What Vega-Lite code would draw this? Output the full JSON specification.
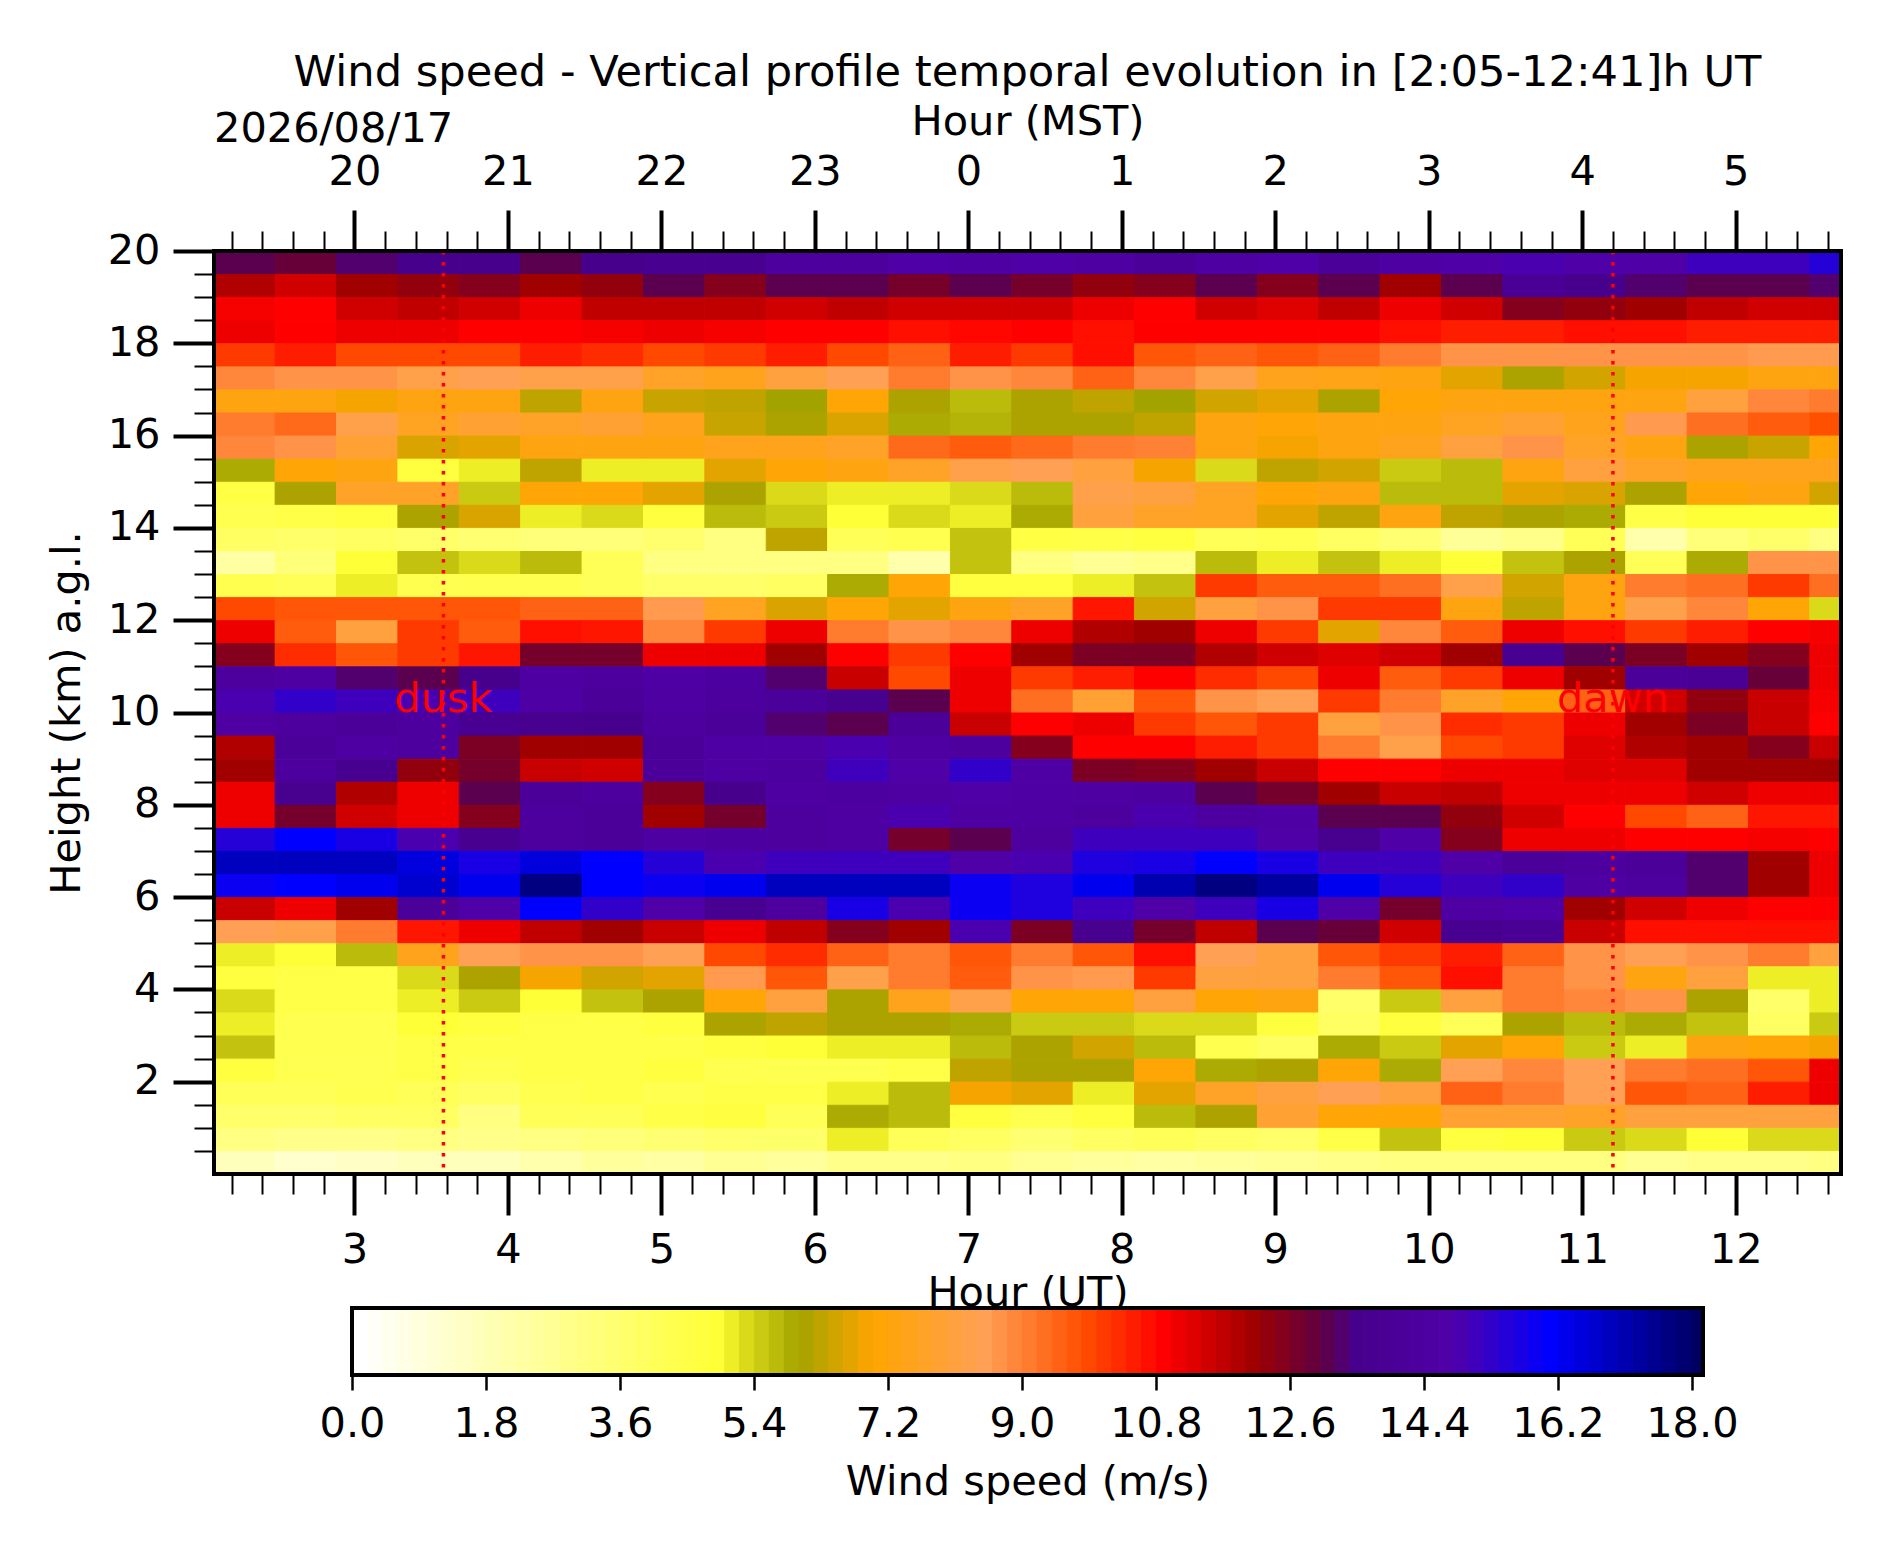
{"$schema":"https://vega.github.io/schema/vega-lite/v6.json","background":"white","padding":{"left":46,"top":51,"right":10,"bottom":10},"config":{"font":"DejaVu Sans","view":{"stroke":null},"axis":{"domain":false,"grid":false,"tickColor":"black","labelColor":"black","titleColor":"black","labelFontSize":41.5,"titleFontSize":41.5,"titleFontWeight":"normal","labelFlush":false,"labelOverlap":false},"title":{"fontSize":43.2,"fontWeight":"normal","color":"black"}},"bounds":"flush","spacing":134,"center":true,"resolve":{"scale":{"color":"independent"}},"vconcat":[{"width":1627,"height":923,"title":{"text":"Wind speed - Vertical profile temporal evolution in [2:05-12:41]h UT","anchor":"middle","offset":6},"resolve":{"axis":{"x":"independent","y":"independent"}},"layer":[{"data":{"values":[
{"t":2.08,"h":19.5,"v":13},{"t":2.48,"h":19.5,"v":12.8},{"t":2.88,"h":19.5,"v":13.2},{"t":3.28,"h":19.5,"v":13.4},{"t":3.68,"h":19.5,"v":13.4},{"t":4.08,"h":19.5,"v":13},{"t":4.48,"h":19.5,"v":13.4},{"t":4.88,"h":19.5,"v":13.6},{"t":5.28,"h":19.5,"v":13.6},{"t":5.68,"h":19.5,"v":14.2},{"t":6.08,"h":19.5,"v":14.2},{"t":6.48,"h":19.5,"v":14.6},{"t":6.88,"h":19.5,"v":14.4},{"t":7.28,"h":19.5,"v":14.6},{"t":7.68,"h":19.5,"v":14.4},{"t":8.08,"h":19.5,"v":14},{"t":8.48,"h":19.5,"v":14.4},{"t":8.88,"h":19.5,"v":14.6},{"t":9.28,"h":19.5,"v":14},{"t":9.68,"h":19.5,"v":14.4},{"t":10.08,"h":19.5,"v":14.6},{"t":10.48,"h":19.5,"v":14.8},{"t":10.88,"h":19.5,"v":14.6},{"t":11.28,"h":19.5,"v":14.6},{"t":11.68,"h":19.5,"v":15},{"t":12.08,"h":19.5,"v":15},{"t":12.48,"h":19.5,"v":15.4},
{"t":2.08,"h":19,"v":11.8},{"t":2.48,"h":19,"v":11.4},{"t":2.88,"h":19,"v":12},{"t":3.28,"h":19,"v":12.2},{"t":3.68,"h":19,"v":12.4},{"t":4.08,"h":19,"v":12},{"t":4.48,"h":19,"v":12.2},{"t":4.88,"h":19,"v":13},{"t":5.28,"h":19,"v":12.4},{"t":5.68,"h":19,"v":13},{"t":6.08,"h":19,"v":13},{"t":6.48,"h":19,"v":12.6},{"t":6.88,"h":19,"v":13},{"t":7.28,"h":19,"v":12.6},{"t":7.68,"h":19,"v":12.2},{"t":8.08,"h":19,"v":12.4},{"t":8.48,"h":19,"v":13},{"t":8.88,"h":19,"v":12.4},{"t":9.28,"h":19,"v":13},{"t":9.68,"h":19,"v":12},{"t":10.08,"h":19,"v":13},{"t":10.48,"h":19,"v":13.8},{"t":10.88,"h":19,"v":13.4},{"t":11.28,"h":19,"v":13.2},{"t":11.68,"h":19,"v":13},{"t":12.08,"h":19,"v":13},{"t":12.48,"h":19,"v":13.2},
{"t":2.08,"h":18.5,"v":10.9},{"t":2.48,"h":18.5,"v":10.8},{"t":2.88,"h":18.5,"v":11.4},{"t":3.28,"h":18.5,"v":11.6},{"t":3.68,"h":18.5,"v":11.4},{"t":4.08,"h":18.5,"v":11},{"t":4.48,"h":18.5,"v":11.6},{"t":4.88,"h":18.5,"v":11.6},{"t":5.28,"h":18.5,"v":11.6},{"t":5.68,"h":18.5,"v":11.4},{"t":6.08,"h":18.5,"v":11.6},{"t":6.48,"h":18.5,"v":11.4},{"t":6.88,"h":18.5,"v":11.4},{"t":7.28,"h":18.5,"v":11.4},{"t":7.68,"h":18.5,"v":11},{"t":8.08,"h":18.5,"v":10.8},{"t":8.48,"h":18.5,"v":11.4},{"t":8.88,"h":18.5,"v":11.2},{"t":9.28,"h":18.5,"v":11.6},{"t":9.68,"h":18.5,"v":11},{"t":10.08,"h":18.5,"v":11.4},{"t":10.48,"h":18.5,"v":12.4},{"t":10.88,"h":18.5,"v":12.2},{"t":11.28,"h":18.5,"v":12},{"t":11.68,"h":18.5,"v":11.6},{"t":12.08,"h":18.5,"v":11.4},{"t":12.48,"h":18.5,"v":11.4},
{"t":2.08,"h":18,"v":11},{"t":2.48,"h":18,"v":10.8},{"t":2.88,"h":18,"v":11},{"t":3.28,"h":18,"v":11},{"t":3.68,"h":18,"v":10.8},{"t":4.08,"h":18,"v":10.8},{"t":4.48,"h":18,"v":10.9},{"t":4.88,"h":18,"v":11},{"t":5.28,"h":18,"v":10.9},{"t":5.68,"h":18,"v":10.8},{"t":6.08,"h":18,"v":10.8},{"t":6.48,"h":18,"v":10.6},{"t":6.88,"h":18,"v":10.7},{"t":7.28,"h":18,"v":10.8},{"t":7.68,"h":18,"v":10.6},{"t":8.08,"h":18,"v":10.8},{"t":8.48,"h":18,"v":10.8},{"t":8.88,"h":18,"v":10.8},{"t":9.28,"h":18,"v":10.8},{"t":9.68,"h":18,"v":10.6},{"t":10.08,"h":18,"v":10.4},{"t":10.48,"h":18,"v":10.4},{"t":10.88,"h":18,"v":10.6},{"t":11.28,"h":18,"v":10.6},{"t":11.68,"h":18,"v":10.4},{"t":12.08,"h":18,"v":10.4},{"t":12.48,"h":18,"v":10.4},
{"t":2.08,"h":17.5,"v":10},{"t":2.48,"h":17.5,"v":10.4},{"t":2.88,"h":17.5,"v":9.8},{"t":3.28,"h":17.5,"v":9.8},{"t":3.68,"h":17.5,"v":9.8},{"t":4.08,"h":17.5,"v":10.4},{"t":4.48,"h":17.5,"v":10.2},{"t":4.88,"h":17.5,"v":9.8},{"t":5.28,"h":17.5,"v":10},{"t":5.68,"h":17.5,"v":10.4},{"t":6.08,"h":17.5,"v":9.8},{"t":6.48,"h":17.5,"v":9.4},{"t":6.88,"h":17.5,"v":10.4},{"t":7.28,"h":17.5,"v":10},{"t":7.68,"h":17.5,"v":10.6},{"t":8.08,"h":17.5,"v":9.6},{"t":8.48,"h":17.5,"v":9.4},{"t":8.88,"h":17.5,"v":9.6},{"t":9.28,"h":17.5,"v":9.4},{"t":9.68,"h":17.5,"v":9},{"t":10.08,"h":17.5,"v":8.6},{"t":10.48,"h":17.5,"v":8.6},{"t":10.88,"h":17.5,"v":8.6},{"t":11.28,"h":17.5,"v":8.6},{"t":11.68,"h":17.5,"v":8.6},{"t":12.08,"h":17.5,"v":8.5},{"t":12.48,"h":17.5,"v":8.5},
{"t":2.08,"h":17,"v":8.8},{"t":2.48,"h":17,"v":8.6},{"t":2.88,"h":17,"v":8.6},{"t":3.28,"h":17,"v":8.2},{"t":3.68,"h":17,"v":8.4},{"t":4.08,"h":17,"v":8.2},{"t":4.48,"h":17,"v":8.2},{"t":4.88,"h":17,"v":7.6},{"t":5.28,"h":17,"v":7.4},{"t":5.68,"h":17,"v":8},{"t":6.08,"h":17,"v":8.4},{"t":6.48,"h":17,"v":9},{"t":6.88,"h":17,"v":8.6},{"t":7.28,"h":17,"v":8.8},{"t":7.68,"h":17,"v":9.4},{"t":8.08,"h":17,"v":8.8},{"t":8.48,"h":17,"v":8.2},{"t":8.88,"h":17,"v":7.4},{"t":9.28,"h":17,"v":7.3},{"t":9.68,"h":17,"v":7.2},{"t":10.08,"h":17,"v":6.6},{"t":10.48,"h":17,"v":6},{"t":10.88,"h":17,"v":6.4},{"t":11.28,"h":17,"v":6.8},{"t":11.68,"h":17,"v":6.8},{"t":12.08,"h":17,"v":7.2},{"t":12.48,"h":17,"v":7.2},
{"t":2.08,"h":16.5,"v":7.2},{"t":2.48,"h":16.5,"v":7.2},{"t":2.88,"h":16.5,"v":6.8},{"t":3.28,"h":16.5,"v":7.2},{"t":3.68,"h":16.5,"v":7.2},{"t":4.08,"h":16.5,"v":6.2},{"t":4.48,"h":16.5,"v":7.2},{"t":4.88,"h":16.5,"v":6.3},{"t":5.28,"h":16.5,"v":6.2},{"t":5.68,"h":16.5,"v":5.9},{"t":6.08,"h":16.5,"v":7},{"t":6.48,"h":16.5,"v":6},{"t":6.88,"h":16.5,"v":5.6},{"t":7.28,"h":16.5,"v":6},{"t":7.68,"h":16.5,"v":6.2},{"t":8.08,"h":16.5,"v":5.9},{"t":8.48,"h":16.5,"v":6.4},{"t":8.88,"h":16.5,"v":6.6},{"t":9.28,"h":16.5,"v":6},{"t":9.68,"h":16.5,"v":7},{"t":10.08,"h":16.5,"v":7.2},{"t":10.48,"h":16.5,"v":7.2},{"t":10.88,"h":16.5,"v":7.2},{"t":11.28,"h":16.5,"v":7.2},{"t":11.68,"h":16.5,"v":8},{"t":12.08,"h":16.5,"v":8.8},{"t":12.48,"h":16.5,"v":9},
{"t":2.08,"h":16,"v":9},{"t":2.48,"h":16,"v":9.3},{"t":2.88,"h":16,"v":8.2},{"t":3.28,"h":16,"v":7.5},{"t":3.68,"h":16,"v":7.8},{"t":4.08,"h":16,"v":7.6},{"t":4.48,"h":16,"v":7.8},{"t":4.88,"h":16,"v":7.4},{"t":5.28,"h":16,"v":6.3},{"t":5.68,"h":16,"v":6},{"t":6.08,"h":16,"v":6.5},{"t":6.48,"h":16,"v":5.8},{"t":6.88,"h":16,"v":5.7},{"t":7.28,"h":16,"v":6},{"t":7.68,"h":16,"v":6},{"t":8.08,"h":16,"v":6.2},{"t":8.48,"h":16,"v":7.2},{"t":8.88,"h":16,"v":7},{"t":9.28,"h":16,"v":7.2},{"t":9.68,"h":16,"v":7.2},{"t":10.08,"h":16,"v":7.5},{"t":10.48,"h":16,"v":7.8},{"t":10.88,"h":16,"v":7.4},{"t":11.28,"h":16,"v":8.5},{"t":11.68,"h":16,"v":9.2},{"t":12.08,"h":16,"v":9.5},{"t":12.48,"h":16,"v":9.7},
{"t":2.08,"h":15.5,"v":8.8},{"t":2.48,"h":15.5,"v":8.6},{"t":2.88,"h":15.5,"v":7.8},{"t":3.28,"h":15.5,"v":6.5},{"t":3.68,"h":15.5,"v":6.6},{"t":4.08,"h":15.5,"v":7.2},{"t":4.48,"h":15.5,"v":7.2},{"t":4.88,"h":15.5,"v":7.2},{"t":5.28,"h":15.5,"v":7.4},{"t":5.68,"h":15.5,"v":7.4},{"t":6.08,"h":15.5,"v":7.6},{"t":6.48,"h":15.5,"v":9.3},{"t":6.88,"h":15.5,"v":9.5},{"t":7.28,"h":15.5,"v":9.3},{"t":7.68,"h":15.5,"v":9},{"t":8.08,"h":15.5,"v":8.9},{"t":8.48,"h":15.5,"v":7.2},{"t":8.88,"h":15.5,"v":6.8},{"t":9.28,"h":15.5,"v":7.2},{"t":9.68,"h":15.5,"v":7.4},{"t":10.08,"h":15.5,"v":8},{"t":10.48,"h":15.5,"v":8.6},{"t":10.88,"h":15.5,"v":7.6},{"t":11.28,"h":15.5,"v":7.2},{"t":11.68,"h":15.5,"v":6},{"t":12.08,"h":15.5,"v":6.3},{"t":12.48,"h":15.5,"v":7},
{"t":2.08,"h":15,"v":5.8},{"t":2.48,"h":15,"v":7},{"t":2.88,"h":15,"v":7.2},{"t":3.28,"h":15,"v":4.6},{"t":3.68,"h":15,"v":5},{"t":4.08,"h":15,"v":6.2},{"t":4.48,"h":15,"v":5},{"t":4.88,"h":15,"v":5},{"t":5.28,"h":15,"v":6.6},{"t":5.68,"h":15,"v":7},{"t":6.08,"h":15,"v":7.2},{"t":6.48,"h":15,"v":7.6},{"t":6.88,"h":15,"v":8.2},{"t":7.28,"h":15,"v":8.4},{"t":7.68,"h":15,"v":8},{"t":8.08,"h":15,"v":6.8},{"t":8.48,"h":15,"v":5.2},{"t":8.88,"h":15,"v":6.2},{"t":9.28,"h":15,"v":6.4},{"t":9.68,"h":15,"v":5.4},{"t":10.08,"h":15,"v":5.6},{"t":10.48,"h":15,"v":7.2},{"t":10.88,"h":15,"v":8},{"t":11.28,"h":15,"v":7.6},{"t":11.68,"h":15,"v":7.4},{"t":12.08,"h":15,"v":7.4},{"t":12.48,"h":15,"v":7.4},
{"t":2.08,"h":14.5,"v":4.5},{"t":2.48,"h":14.5,"v":6},{"t":2.88,"h":14.5,"v":7.6},{"t":3.28,"h":14.5,"v":7.6},{"t":3.68,"h":14.5,"v":5.4},{"t":4.08,"h":14.5,"v":7},{"t":4.48,"h":14.5,"v":7},{"t":4.88,"h":14.5,"v":6.6},{"t":5.28,"h":14.5,"v":6},{"t":5.68,"h":14.5,"v":5.2},{"t":6.08,"h":14.5,"v":5},{"t":6.48,"h":14.5,"v":5},{"t":6.88,"h":14.5,"v":5.2},{"t":7.28,"h":14.5,"v":5.6},{"t":7.68,"h":14.5,"v":8.2},{"t":8.08,"h":14.5,"v":8},{"t":8.48,"h":14.5,"v":7.5},{"t":8.88,"h":14.5,"v":7},{"t":9.28,"h":14.5,"v":7.2},{"t":9.68,"h":14.5,"v":5.6},{"t":10.08,"h":14.5,"v":5.6},{"t":10.48,"h":14.5,"v":6.6},{"t":10.88,"h":14.5,"v":6.5},{"t":11.28,"h":14.5,"v":6},{"t":11.68,"h":14.5,"v":7},{"t":12.08,"h":14.5,"v":7.2},{"t":12.48,"h":14.5,"v":6.4},
{"t":2.08,"h":14,"v":4.2},{"t":2.48,"h":14,"v":4.4},{"t":2.88,"h":14,"v":4.6},{"t":3.28,"h":14,"v":6},{"t":3.68,"h":14,"v":6.5},{"t":4.08,"h":14,"v":5},{"t":4.48,"h":14,"v":5.2},{"t":4.88,"h":14,"v":4.6},{"t":5.28,"h":14,"v":5.6},{"t":5.68,"h":14,"v":5.4},{"t":6.08,"h":14,"v":4.8},{"t":6.48,"h":14,"v":5.2},{"t":6.88,"h":14,"v":5},{"t":7.28,"h":14,"v":5.8},{"t":7.68,"h":14,"v":8},{"t":8.08,"h":14,"v":7.6},{"t":8.48,"h":14,"v":7.5},{"t":8.88,"h":14,"v":6.6},{"t":9.28,"h":14,"v":6.2},{"t":9.68,"h":14,"v":7.2},{"t":10.08,"h":14,"v":6.2},{"t":10.48,"h":14,"v":6},{"t":10.88,"h":14,"v":5.8},{"t":11.28,"h":14,"v":4.4},{"t":11.68,"h":14,"v":4.8},{"t":12.08,"h":14,"v":4.8},{"t":12.48,"h":14,"v":4.8},
{"t":2.08,"h":13.5,"v":3.8},{"t":2.48,"h":13.5,"v":3.6},{"t":2.88,"h":13.5,"v":3.8},{"t":3.28,"h":13.5,"v":3.6},{"t":3.68,"h":13.5,"v":3.4},{"t":4.08,"h":13.5,"v":3.2},{"t":4.48,"h":13.5,"v":3.2},{"t":4.88,"h":13.5,"v":3.5},{"t":5.28,"h":13.5,"v":3},{"t":5.68,"h":13.5,"v":6.2},{"t":6.08,"h":13.5,"v":4},{"t":6.48,"h":13.5,"v":4.2},{"t":6.88,"h":13.5,"v":5.5},{"t":7.28,"h":13.5,"v":4.5},{"t":7.68,"h":13.5,"v":4.4},{"t":8.08,"h":13.5,"v":4.6},{"t":8.48,"h":13.5,"v":4},{"t":8.88,"h":13.5,"v":4.2},{"t":9.28,"h":13.5,"v":3.8},{"t":9.68,"h":13.5,"v":3.4},{"t":10.08,"h":13.5,"v":2.5},{"t":10.48,"h":13.5,"v":2.8},{"t":10.88,"h":13.5,"v":4},{"t":11.28,"h":13.5,"v":2},{"t":11.68,"h":13.5,"v":3.2},{"t":12.08,"h":13.5,"v":3.6},{"t":12.48,"h":13.5,"v":3},
{"t":2.08,"h":13,"v":2.2},{"t":2.48,"h":13,"v":3.2},{"t":2.88,"h":13,"v":4.8},{"t":3.28,"h":13,"v":5.5},{"t":3.68,"h":13,"v":5.2},{"t":4.08,"h":13,"v":5.6},{"t":4.48,"h":13,"v":4},{"t":4.88,"h":13,"v":3},{"t":5.28,"h":13,"v":3},{"t":5.68,"h":13,"v":3},{"t":6.08,"h":13,"v":3},{"t":6.48,"h":13,"v":2},{"t":6.88,"h":13,"v":5.5},{"t":7.28,"h":13,"v":3},{"t":7.68,"h":13,"v":2.6},{"t":8.08,"h":13,"v":2.8},{"t":8.48,"h":13,"v":5.6},{"t":8.88,"h":13,"v":5},{"t":9.28,"h":13,"v":5.5},{"t":9.68,"h":13,"v":5},{"t":10.08,"h":13,"v":4.8},{"t":10.48,"h":13,"v":5.5},{"t":10.88,"h":13,"v":6},{"t":11.28,"h":13,"v":4},{"t":11.68,"h":13,"v":5.8},{"t":12.08,"h":13,"v":8.6},{"t":12.48,"h":13,"v":8.6},
{"t":2.08,"h":12.5,"v":4.2},{"t":2.48,"h":12.5,"v":4},{"t":2.88,"h":12.5,"v":5},{"t":3.28,"h":12.5,"v":4.2},{"t":3.68,"h":12.5,"v":4.2},{"t":4.08,"h":12.5,"v":4.2},{"t":4.48,"h":12.5,"v":4},{"t":4.88,"h":12.5,"v":3.6},{"t":5.28,"h":12.5,"v":3.6},{"t":5.68,"h":12.5,"v":3.8},{"t":6.08,"h":12.5,"v":5.8},{"t":6.48,"h":12.5,"v":7},{"t":6.88,"h":12.5,"v":4.6},{"t":7.28,"h":12.5,"v":4.6},{"t":7.68,"h":12.5,"v":5},{"t":8.08,"h":12.5,"v":5.5},{"t":8.48,"h":12.5,"v":10},{"t":8.88,"h":12.5,"v":9.5},{"t":9.28,"h":12.5,"v":9.5},{"t":9.68,"h":12.5,"v":9.2},{"t":10.08,"h":12.5,"v":8.2},{"t":10.48,"h":12.5,"v":6.4},{"t":10.88,"h":12.5,"v":7.2},{"t":11.28,"h":12.5,"v":9},{"t":11.68,"h":12.5,"v":9.2},{"t":12.08,"h":12.5,"v":10},{"t":12.48,"h":12.5,"v":9.2},
{"t":2.08,"h":12,"v":9.8},{"t":2.48,"h":12,"v":9.6},{"t":2.88,"h":12,"v":9.6},{"t":3.28,"h":12,"v":9.6},{"t":3.68,"h":12,"v":9.6},{"t":4.08,"h":12,"v":9.4},{"t":4.48,"h":12,"v":9.4},{"t":4.88,"h":12,"v":8.5},{"t":5.28,"h":12,"v":7.5},{"t":5.68,"h":12,"v":6.5},{"t":6.08,"h":12,"v":7},{"t":6.48,"h":12,"v":6.6},{"t":6.88,"h":12,"v":7.2},{"t":7.28,"h":12,"v":7.6},{"t":7.68,"h":12,"v":10.5},{"t":8.08,"h":12,"v":6.4},{"t":8.48,"h":12,"v":8},{"t":8.88,"h":12,"v":8.6},{"t":9.28,"h":12,"v":10},{"t":9.68,"h":12,"v":10},{"t":10.08,"h":12,"v":7.2},{"t":10.48,"h":12,"v":6.2},{"t":10.88,"h":12,"v":7.2},{"t":11.28,"h":12,"v":8.2},{"t":11.68,"h":12,"v":8.8},{"t":12.08,"h":12,"v":7},{"t":12.48,"h":12,"v":5.2},
{"t":2.08,"h":11.5,"v":11},{"t":2.48,"h":11.5,"v":9.5},{"t":2.88,"h":11.5,"v":8},{"t":3.28,"h":11.5,"v":10},{"t":3.68,"h":11.5,"v":9.5},{"t":4.08,"h":11.5,"v":10.6},{"t":4.48,"h":11.5,"v":10.5},{"t":4.88,"h":11.5,"v":8.8},{"t":5.28,"h":11.5,"v":10},{"t":5.68,"h":11.5,"v":11},{"t":6.08,"h":11.5,"v":9},{"t":6.48,"h":11.5,"v":8.6},{"t":6.88,"h":11.5,"v":8.8},{"t":7.28,"h":11.5,"v":11},{"t":7.68,"h":11.5,"v":11.8},{"t":8.08,"h":11.5,"v":12},{"t":8.48,"h":11.5,"v":11},{"t":8.88,"h":11.5,"v":10},{"t":9.28,"h":11.5,"v":6.6},{"t":9.68,"h":11.5,"v":8.8},{"t":10.08,"h":11.5,"v":9.5},{"t":10.48,"h":11.5,"v":11},{"t":10.88,"h":11.5,"v":10.6},{"t":11.28,"h":11.5,"v":10},{"t":11.68,"h":11.5,"v":10.4},{"t":12.08,"h":11.5,"v":10.8},{"t":12.48,"h":11.5,"v":10.9},
{"t":2.08,"h":11,"v":12.4},{"t":2.48,"h":11,"v":10.2},{"t":2.88,"h":11,"v":9.6},{"t":3.28,"h":11,"v":10},{"t":3.68,"h":11,"v":10.5},{"t":4.08,"h":11,"v":12.6},{"t":4.48,"h":11,"v":12.6},{"t":4.88,"h":11,"v":11},{"t":5.28,"h":11,"v":11},{"t":5.68,"h":11,"v":12},{"t":6.08,"h":11,"v":10.8},{"t":6.48,"h":11,"v":10},{"t":6.88,"h":11,"v":10.8},{"t":7.28,"h":11,"v":12},{"t":7.68,"h":11,"v":12.5},{"t":8.08,"h":11,"v":12.5},{"t":8.48,"h":11,"v":11.8},{"t":8.88,"h":11,"v":11.4},{"t":9.28,"h":11,"v":11.2},{"t":9.68,"h":11,"v":11.4},{"t":10.08,"h":11,"v":12},{"t":10.48,"h":11,"v":13.6},{"t":10.88,"h":11,"v":13},{"t":11.28,"h":11,"v":12.5},{"t":11.68,"h":11,"v":12},{"t":12.08,"h":11,"v":12.4},{"t":12.48,"h":11,"v":11},
{"t":2.08,"h":10.5,"v":14.2},{"t":2.48,"h":10.5,"v":14.4},{"t":2.88,"h":10.5,"v":13.2},{"t":3.28,"h":10.5,"v":13},{"t":3.68,"h":10.5,"v":13.4},{"t":4.08,"h":10.5,"v":14.4},{"t":4.48,"h":10.5,"v":14.2},{"t":4.88,"h":10.5,"v":14.5},{"t":5.28,"h":10.5,"v":14.3},{"t":5.68,"h":10.5,"v":13.2},{"t":6.08,"h":10.5,"v":11.5},{"t":6.48,"h":10.5,"v":9.8},{"t":6.88,"h":10.5,"v":11},{"t":7.28,"h":10.5,"v":10},{"t":7.68,"h":10.5,"v":10.4},{"t":8.08,"h":10.5,"v":10.8},{"t":8.48,"h":10.5,"v":10.2},{"t":8.88,"h":10.5,"v":9.8},{"t":9.28,"h":10.5,"v":11},{"t":9.68,"h":10.5,"v":9.5},{"t":10.08,"h":10.5,"v":10},{"t":10.48,"h":10.5,"v":11},{"t":10.88,"h":10.5,"v":12},{"t":11.28,"h":10.5,"v":14},{"t":11.68,"h":10.5,"v":13.8},{"t":12.08,"h":10.5,"v":12.8},{"t":12.48,"h":10.5,"v":11},
{"t":2.08,"h":10,"v":14.8},{"t":2.48,"h":10,"v":15.2},{"t":2.88,"h":10,"v":15},{"t":3.28,"h":10,"v":14.8},{"t":3.68,"h":10,"v":15},{"t":4.08,"h":10,"v":14.5},{"t":4.48,"h":10,"v":14},{"t":4.88,"h":10,"v":14.4},{"t":5.28,"h":10,"v":14.2},{"t":5.68,"h":10,"v":14},{"t":6.08,"h":10,"v":13.5},{"t":6.48,"h":10,"v":13},{"t":6.88,"h":10,"v":11},{"t":7.28,"h":10,"v":9.2},{"t":7.68,"h":10,"v":7.8},{"t":8.08,"h":10,"v":9.6},{"t":8.48,"h":10,"v":8.6},{"t":8.88,"h":10,"v":8.4},{"t":9.28,"h":10,"v":10},{"t":9.68,"h":10,"v":9},{"t":10.08,"h":10,"v":7.6},{"t":10.48,"h":10,"v":7},{"t":10.88,"h":10,"v":9.4},{"t":11.28,"h":10,"v":11.4},{"t":11.68,"h":10,"v":12.2},{"t":12.08,"h":10,"v":11.5},{"t":12.48,"h":10,"v":10.9},
{"t":2.08,"h":9.5,"v":14.4},{"t":2.48,"h":9.5,"v":14.2},{"t":2.88,"h":9.5,"v":14},{"t":3.28,"h":9.5,"v":14.2},{"t":3.68,"h":9.5,"v":13.6},{"t":4.08,"h":9.5,"v":13.5},{"t":4.48,"h":9.5,"v":13.4},{"t":4.88,"h":9.5,"v":14.2},{"t":5.28,"h":9.5,"v":14},{"t":5.68,"h":9.5,"v":13.2},{"t":6.08,"h":9.5,"v":13},{"t":6.48,"h":9.5,"v":14},{"t":6.88,"h":9.5,"v":11.5},{"t":7.28,"h":9.5,"v":10.8},{"t":7.68,"h":9.5,"v":11},{"t":8.08,"h":9.5,"v":10},{"t":8.48,"h":9.5,"v":9.6},{"t":8.88,"h":9.5,"v":10},{"t":9.28,"h":9.5,"v":8},{"t":9.68,"h":9.5,"v":8.6},{"t":10.08,"h":9.5,"v":10.2},{"t":10.48,"h":9.5,"v":10},{"t":10.88,"h":9.5,"v":11},{"t":11.28,"h":9.5,"v":12},{"t":11.68,"h":9.5,"v":12.5},{"t":12.08,"h":9.5,"v":11.5},{"t":12.48,"h":9.5,"v":10.8},
{"t":2.08,"h":9,"v":11.8},{"t":2.48,"h":9,"v":14},{"t":2.88,"h":9,"v":14.4},{"t":3.28,"h":9,"v":14.2},{"t":3.68,"h":9,"v":12.5},{"t":4.08,"h":9,"v":12},{"t":4.48,"h":9,"v":12},{"t":4.88,"h":9,"v":14},{"t":5.28,"h":9,"v":14.5},{"t":5.68,"h":9,"v":14.5},{"t":6.08,"h":9,"v":14.8},{"t":6.48,"h":9,"v":14.4},{"t":6.88,"h":9,"v":14.2},{"t":7.28,"h":9,"v":12.4},{"t":7.68,"h":9,"v":10.8},{"t":8.08,"h":9,"v":10.8},{"t":8.48,"h":9,"v":10.4},{"t":8.88,"h":9,"v":10},{"t":9.28,"h":9,"v":9},{"t":9.68,"h":9,"v":8.2},{"t":10.08,"h":9,"v":9.8},{"t":10.48,"h":9,"v":10},{"t":10.88,"h":9,"v":11.2},{"t":11.28,"h":9,"v":11.8},{"t":11.68,"h":9,"v":12},{"t":12.08,"h":9,"v":12.4},{"t":12.48,"h":9,"v":11.5},
{"t":2.08,"h":8.5,"v":12},{"t":2.48,"h":8.5,"v":14.2},{"t":2.88,"h":8.5,"v":13.6},{"t":3.28,"h":8.5,"v":12.2},{"t":3.68,"h":8.5,"v":12.6},{"t":4.08,"h":8.5,"v":11.5},{"t":4.48,"h":8.5,"v":11.4},{"t":4.88,"h":8.5,"v":14},{"t":5.28,"h":8.5,"v":14.4},{"t":5.68,"h":8.5,"v":14.2},{"t":6.08,"h":8.5,"v":15},{"t":6.48,"h":8.5,"v":14.6},{"t":6.88,"h":8.5,"v":15.2},{"t":7.28,"h":8.5,"v":14.5},{"t":7.68,"h":8.5,"v":12.5},{"t":8.08,"h":8.5,"v":12.4},{"t":8.48,"h":8.5,"v":12},{"t":8.88,"h":8.5,"v":11.5},{"t":9.28,"h":8.5,"v":10.8},{"t":9.68,"h":8.5,"v":10.8},{"t":10.08,"h":8.5,"v":11},{"t":10.48,"h":8.5,"v":11},{"t":10.88,"h":8.5,"v":11.2},{"t":11.28,"h":8.5,"v":11.2},{"t":11.68,"h":8.5,"v":12},{"t":12.08,"h":8.5,"v":12},{"t":12.48,"h":8.5,"v":12},
{"t":2.08,"h":8,"v":11},{"t":2.48,"h":8,"v":13.5},{"t":2.88,"h":8,"v":11.8},{"t":3.28,"h":8,"v":11},{"t":3.68,"h":8,"v":13},{"t":4.08,"h":8,"v":14},{"t":4.48,"h":8,"v":14.2},{"t":4.88,"h":8,"v":12.4},{"t":5.28,"h":8,"v":13.4},{"t":5.68,"h":8,"v":14.4},{"t":6.08,"h":8,"v":14.3},{"t":6.48,"h":8,"v":14.4},{"t":6.88,"h":8,"v":14.6},{"t":7.28,"h":8,"v":14.5},{"t":7.68,"h":8,"v":14.4},{"t":8.08,"h":8,"v":14.3},{"t":8.48,"h":8,"v":13},{"t":8.88,"h":8,"v":12.6},{"t":9.28,"h":8,"v":12},{"t":9.68,"h":8,"v":11.5},{"t":10.08,"h":8,"v":11.6},{"t":10.48,"h":8,"v":11},{"t":10.88,"h":8,"v":11},{"t":11.28,"h":8,"v":11},{"t":11.68,"h":8,"v":11.4},{"t":12.08,"h":8,"v":11},{"t":12.48,"h":8,"v":11},
{"t":2.08,"h":7.5,"v":11},{"t":2.48,"h":7.5,"v":12.6},{"t":2.88,"h":7.5,"v":11.4},{"t":3.28,"h":7.5,"v":11},{"t":3.68,"h":7.5,"v":12.4},{"t":4.08,"h":7.5,"v":14.2},{"t":4.48,"h":7.5,"v":14},{"t":4.88,"h":7.5,"v":12},{"t":5.28,"h":7.5,"v":12.6},{"t":5.68,"h":7.5,"v":14.2},{"t":6.08,"h":7.5,"v":14.4},{"t":6.48,"h":7.5,"v":14.8},{"t":6.88,"h":7.5,"v":14.4},{"t":7.28,"h":7.5,"v":14.4},{"t":7.68,"h":7.5,"v":14.2},{"t":8.08,"h":7.5,"v":14.8},{"t":8.48,"h":7.5,"v":14.3},{"t":8.88,"h":7.5,"v":14.5},{"t":9.28,"h":7.5,"v":13},{"t":9.68,"h":7.5,"v":13},{"t":10.08,"h":7.5,"v":12.2},{"t":10.48,"h":7.5,"v":11.4},{"t":10.88,"h":7.5,"v":10.8},{"t":11.28,"h":7.5,"v":9.8},{"t":11.68,"h":7.5,"v":9.4},{"t":12.08,"h":7.5,"v":10.5},{"t":12.48,"h":7.5,"v":10.5},
{"t":2.08,"h":7,"v":15.4},{"t":2.48,"h":7,"v":16},{"t":2.88,"h":7,"v":15.6},{"t":3.28,"h":7,"v":14.8},{"t":3.68,"h":7,"v":13.6},{"t":4.08,"h":7,"v":14.2},{"t":4.48,"h":7,"v":14},{"t":4.88,"h":7,"v":14.4},{"t":5.28,"h":7,"v":14.3},{"t":5.68,"h":7,"v":14.2},{"t":6.08,"h":7,"v":14.4},{"t":6.48,"h":7,"v":12.6},{"t":6.88,"h":7,"v":13},{"t":7.28,"h":7,"v":14.2},{"t":7.68,"h":7,"v":15},{"t":8.08,"h":7,"v":15},{"t":8.48,"h":7,"v":15},{"t":8.88,"h":7,"v":14.6},{"t":9.28,"h":7,"v":13.5},{"t":9.68,"h":7,"v":14.6},{"t":10.08,"h":7,"v":12.4},{"t":10.48,"h":7,"v":11},{"t":10.88,"h":7,"v":11},{"t":11.28,"h":7,"v":10.8},{"t":11.68,"h":7,"v":10.8},{"t":12.08,"h":7,"v":10.9},{"t":12.48,"h":7,"v":10.8},
{"t":2.08,"h":6.5,"v":16.8},{"t":2.48,"h":6.5,"v":16.8},{"t":2.88,"h":6.5,"v":16.8},{"t":3.28,"h":6.5,"v":16.4},{"t":3.68,"h":6.5,"v":15.6},{"t":4.08,"h":6.5,"v":16.4},{"t":4.48,"h":6.5,"v":16},{"t":4.88,"h":6.5,"v":15.4},{"t":5.28,"h":6.5,"v":14.8},{"t":5.68,"h":6.5,"v":15},{"t":6.08,"h":6.5,"v":15},{"t":6.48,"h":6.5,"v":15},{"t":6.88,"h":6.5,"v":14.6},{"t":7.28,"h":6.5,"v":14.8},{"t":7.68,"h":6.5,"v":15.5},{"t":8.08,"h":6.5,"v":15.6},{"t":8.48,"h":6.5,"v":16},{"t":8.88,"h":6.5,"v":15.6},{"t":9.28,"h":6.5,"v":15},{"t":9.68,"h":6.5,"v":15},{"t":10.08,"h":6.5,"v":14.6},{"t":10.48,"h":6.5,"v":14},{"t":10.88,"h":6.5,"v":14.2},{"t":11.28,"h":6.5,"v":14},{"t":11.68,"h":6.5,"v":13.2},{"t":12.08,"h":6.5,"v":12},{"t":12.48,"h":6.5,"v":11},
{"t":2.08,"h":6,"v":15.8},{"t":2.48,"h":6,"v":16},{"t":2.88,"h":6,"v":16.2},{"t":3.28,"h":6,"v":16.6},{"t":3.68,"h":6,"v":16.2},{"t":4.08,"h":6,"v":17.6},{"t":4.48,"h":6,"v":16},{"t":4.88,"h":6,"v":15.8},{"t":5.28,"h":6,"v":16.2},{"t":5.68,"h":6,"v":16.8},{"t":6.08,"h":6,"v":16.8},{"t":6.48,"h":6,"v":16.8},{"t":6.88,"h":6,"v":15.8},{"t":7.28,"h":6,"v":15.5},{"t":7.68,"h":6,"v":16.2},{"t":8.08,"h":6,"v":17},{"t":8.48,"h":6,"v":17.6},{"t":8.88,"h":6,"v":17.2},{"t":9.28,"h":6,"v":16.2},{"t":9.68,"h":6,"v":15.4},{"t":10.08,"h":6,"v":15},{"t":10.48,"h":6,"v":15.2},{"t":10.88,"h":6,"v":14.4},{"t":11.28,"h":6,"v":14.2},{"t":11.68,"h":6,"v":13.2},{"t":12.08,"h":6,"v":12},{"t":12.48,"h":6,"v":11},
{"t":2.08,"h":5.5,"v":11.5},{"t":2.48,"h":5.5,"v":11},{"t":2.88,"h":5.5,"v":12},{"t":3.28,"h":5.5,"v":14},{"t":3.68,"h":5.5,"v":14.6},{"t":4.08,"h":5.5,"v":16},{"t":4.48,"h":5.5,"v":15.2},{"t":4.88,"h":5.5,"v":14.6},{"t":5.28,"h":5.5,"v":13.6},{"t":5.68,"h":5.5,"v":14.2},{"t":6.08,"h":5.5,"v":15.6},{"t":6.48,"h":5.5,"v":14.8},{"t":6.88,"h":5.5,"v":15.8},{"t":7.28,"h":5.5,"v":15.5},{"t":7.68,"h":5.5,"v":15},{"t":8.08,"h":5.5,"v":14.6},{"t":8.48,"h":5.5,"v":15},{"t":8.88,"h":5.5,"v":15.6},{"t":9.28,"h":5.5,"v":14.6},{"t":9.68,"h":5.5,"v":12.6},{"t":10.08,"h":5.5,"v":14.4},{"t":10.48,"h":5.5,"v":14.6},{"t":10.88,"h":5.5,"v":12},{"t":11.28,"h":5.5,"v":11.4},{"t":11.68,"h":5.5,"v":11},{"t":12.08,"h":5.5,"v":10.8},{"t":12.48,"h":5.5,"v":10.8},
{"t":2.08,"h":5,"v":8.4},{"t":2.48,"h":5,"v":8.2},{"t":2.88,"h":5,"v":9},{"t":3.28,"h":5,"v":10.5},{"t":3.68,"h":5,"v":11},{"t":4.08,"h":5,"v":11.6},{"t":4.48,"h":5,"v":12},{"t":4.88,"h":5,"v":11.5},{"t":5.28,"h":5,"v":11},{"t":5.68,"h":5,"v":11.6},{"t":6.08,"h":5,"v":12.4},{"t":6.48,"h":5,"v":12},{"t":6.88,"h":5,"v":14.8},{"t":7.28,"h":5,"v":12.5},{"t":7.68,"h":5,"v":13.5},{"t":8.08,"h":5,"v":12.6},{"t":8.48,"h":5,"v":11.6},{"t":8.88,"h":5,"v":13},{"t":9.28,"h":5,"v":12.8},{"t":9.68,"h":5,"v":11.4},{"t":10.08,"h":5,"v":13.6},{"t":10.48,"h":5,"v":13.8},{"t":10.88,"h":5,"v":11.5},{"t":11.28,"h":5,"v":10.6},{"t":11.68,"h":5,"v":10.6},{"t":12.08,"h":5,"v":10.6},{"t":12.48,"h":5,"v":10.6},
{"t":2.08,"h":4.5,"v":5},{"t":2.48,"h":4.5,"v":4.8},{"t":2.88,"h":4.5,"v":5.6},{"t":3.28,"h":4.5,"v":7.4},{"t":3.68,"h":4.5,"v":8.4},{"t":4.08,"h":4.5,"v":8.6},{"t":4.48,"h":4.5,"v":8.6},{"t":4.88,"h":4.5,"v":8.4},{"t":5.28,"h":4.5,"v":9.8},{"t":5.68,"h":4.5,"v":10.2},{"t":6.08,"h":4.5,"v":9.4},{"t":6.48,"h":4.5,"v":9},{"t":6.88,"h":4.5,"v":9.6},{"t":7.28,"h":4.5,"v":9},{"t":7.68,"h":4.5,"v":9.6},{"t":8.08,"h":4.5,"v":10.6},{"t":8.48,"h":4.5,"v":8.4},{"t":8.88,"h":4.5,"v":8},{"t":9.28,"h":4.5,"v":9.6},{"t":9.68,"h":4.5,"v":10},{"t":10.08,"h":4.5,"v":10.4},{"t":10.48,"h":4.5,"v":9.4},{"t":10.88,"h":4.5,"v":8.6},{"t":11.28,"h":4.5,"v":8.4},{"t":11.68,"h":4.5,"v":8.6},{"t":12.08,"h":4.5,"v":9},{"t":12.48,"h":4.5,"v":8},
{"t":2.08,"h":4,"v":4.6},{"t":2.48,"h":4,"v":4.4},{"t":2.88,"h":4,"v":4.4},{"t":3.28,"h":4,"v":5.2},{"t":3.68,"h":4,"v":6},{"t":4.08,"h":4,"v":6.8},{"t":4.48,"h":4,"v":6.4},{"t":4.88,"h":4,"v":6.6},{"t":5.28,"h":4,"v":8.5},{"t":5.68,"h":4,"v":9.6},{"t":6.08,"h":4,"v":8.2},{"t":6.48,"h":4,"v":9},{"t":6.88,"h":4,"v":9.5},{"t":7.28,"h":4,"v":8.6},{"t":7.68,"h":4,"v":8.5},{"t":8.08,"h":4,"v":10},{"t":8.48,"h":4,"v":8},{"t":8.88,"h":4,"v":8},{"t":9.28,"h":4,"v":9},{"t":9.68,"h":4,"v":9.6},{"t":10.08,"h":4,"v":10.6},{"t":10.48,"h":4,"v":9},{"t":10.88,"h":4,"v":8.6},{"t":11.28,"h":4,"v":7.2},{"t":11.68,"h":4,"v":8},{"t":12.08,"h":4,"v":5},{"t":12.48,"h":4,"v":5},
{"t":2.08,"h":3.5,"v":5.2},{"t":2.48,"h":3.5,"v":4.4},{"t":2.88,"h":3.5,"v":4.4},{"t":3.28,"h":3.5,"v":5},{"t":3.68,"h":3.5,"v":5.4},{"t":4.08,"h":3.5,"v":4.8},{"t":4.48,"h":3.5,"v":5.5},{"t":4.88,"h":3.5,"v":6},{"t":5.28,"h":3.5,"v":7},{"t":5.68,"h":3.5,"v":8},{"t":6.08,"h":3.5,"v":6},{"t":6.48,"h":3.5,"v":7.4},{"t":6.88,"h":3.5,"v":8.2},{"t":7.28,"h":3.5,"v":7},{"t":7.68,"h":3.5,"v":7},{"t":8.08,"h":3.5,"v":8},{"t":8.48,"h":3.5,"v":7},{"t":8.88,"h":3.5,"v":7.2},{"t":9.28,"h":3.5,"v":3.6},{"t":9.68,"h":3.5,"v":5.4},{"t":10.08,"h":3.5,"v":8},{"t":10.48,"h":3.5,"v":9},{"t":10.88,"h":3.5,"v":8.8},{"t":11.28,"h":3.5,"v":8.6},{"t":11.68,"h":3.5,"v":6},{"t":12.08,"h":3.5,"v":3.6},{"t":12.48,"h":3.5,"v":5},
{"t":2.08,"h":3,"v":5},{"t":2.48,"h":3,"v":4.2},{"t":2.88,"h":3,"v":4.2},{"t":3.28,"h":3,"v":4.8},{"t":3.68,"h":3,"v":4.6},{"t":4.08,"h":3,"v":4.4},{"t":4.48,"h":3,"v":4.4},{"t":4.88,"h":3,"v":4.6},{"t":5.28,"h":3,"v":6},{"t":5.68,"h":3,"v":6.2},{"t":6.08,"h":3,"v":6},{"t":6.48,"h":3,"v":6},{"t":6.88,"h":3,"v":5.8},{"t":7.28,"h":3,"v":5.4},{"t":7.68,"h":3,"v":5.4},{"t":8.08,"h":3,"v":5.2},{"t":8.48,"h":3,"v":5.2},{"t":8.88,"h":3,"v":4.6},{"t":9.28,"h":3,"v":3.8},{"t":9.68,"h":3,"v":4.6},{"t":10.08,"h":3,"v":4},{"t":10.48,"h":3,"v":6},{"t":10.88,"h":3,"v":5.6},{"t":11.28,"h":3,"v":5.8},{"t":11.68,"h":3,"v":5.5},{"t":12.08,"h":3,"v":3.8},{"t":12.48,"h":3,"v":5.4},
{"t":2.08,"h":2.5,"v":5.5},{"t":2.48,"h":2.5,"v":4.2},{"t":2.88,"h":2.5,"v":4.2},{"t":3.28,"h":2.5,"v":4.4},{"t":3.68,"h":2.5,"v":4.4},{"t":4.08,"h":2.5,"v":4.4},{"t":4.48,"h":2.5,"v":4.4},{"t":4.88,"h":2.5,"v":4.4},{"t":5.28,"h":2.5,"v":4.6},{"t":5.68,"h":2.5,"v":4.8},{"t":6.08,"h":2.5,"v":5},{"t":6.48,"h":2.5,"v":5},{"t":6.88,"h":2.5,"v":5.6},{"t":7.28,"h":2.5,"v":6},{"t":7.68,"h":2.5,"v":6.4},{"t":8.08,"h":2.5,"v":5.6},{"t":8.48,"h":2.5,"v":4.2},{"t":8.88,"h":2.5,"v":3.8},{"t":9.28,"h":2.5,"v":5.8},{"t":9.68,"h":2.5,"v":5.4},{"t":10.08,"h":2.5,"v":6.6},{"t":10.48,"h":2.5,"v":7},{"t":10.88,"h":2.5,"v":5.4},{"t":11.28,"h":2.5,"v":5},{"t":11.68,"h":2.5,"v":7.2},{"t":12.08,"h":2.5,"v":7},{"t":12.48,"h":2.5,"v":6.8},
{"t":2.08,"h":2,"v":4.6},{"t":2.48,"h":2,"v":4.2},{"t":2.88,"h":2,"v":4.2},{"t":3.28,"h":2,"v":4.4},{"t":3.68,"h":2,"v":4.2},{"t":4.08,"h":2,"v":4.4},{"t":4.48,"h":2,"v":4.4},{"t":4.88,"h":2,"v":4.6},{"t":5.28,"h":2,"v":4.2},{"t":5.68,"h":2,"v":4.2},{"t":6.08,"h":2,"v":4.2},{"t":6.48,"h":2,"v":4.4},{"t":6.88,"h":2,"v":6.2},{"t":7.28,"h":2,"v":6},{"t":7.68,"h":2,"v":6},{"t":8.08,"h":2,"v":7},{"t":8.48,"h":2,"v":5.8},{"t":8.88,"h":2,"v":6},{"t":9.28,"h":2,"v":7},{"t":9.68,"h":2,"v":5.8},{"t":10.08,"h":2,"v":8.4},{"t":10.48,"h":2,"v":8.8},{"t":10.88,"h":2,"v":8.4},{"t":11.28,"h":2,"v":9},{"t":11.68,"h":2,"v":9.2},{"t":12.08,"h":2,"v":9.6},{"t":12.48,"h":2,"v":11},
{"t":2.08,"h":1.5,"v":4},{"t":2.48,"h":1.5,"v":4},{"t":2.88,"h":1.5,"v":4.2},{"t":3.28,"h":1.5,"v":4},{"t":3.68,"h":1.5,"v":3.8},{"t":4.08,"h":1.5,"v":4.2},{"t":4.48,"h":1.5,"v":4.4},{"t":4.88,"h":1.5,"v":4.2},{"t":5.28,"h":1.5,"v":4.4},{"t":5.68,"h":1.5,"v":4.4},{"t":6.08,"h":1.5,"v":5},{"t":6.48,"h":1.5,"v":5.6},{"t":6.88,"h":1.5,"v":6.8},{"t":7.28,"h":1.5,"v":6.6},{"t":7.68,"h":1.5,"v":5},{"t":8.08,"h":1.5,"v":6.6},{"t":8.48,"h":1.5,"v":7.6},{"t":8.88,"h":1.5,"v":8},{"t":9.28,"h":1.5,"v":8.4},{"t":9.68,"h":1.5,"v":8},{"t":10.08,"h":1.5,"v":9.4},{"t":10.48,"h":1.5,"v":9},{"t":10.88,"h":1.5,"v":8.4},{"t":11.28,"h":1.5,"v":9.6},{"t":11.68,"h":1.5,"v":9.4},{"t":12.08,"h":1.5,"v":10.4},{"t":12.48,"h":1.5,"v":11},
{"t":2.08,"h":1,"v":3.6},{"t":2.48,"h":1,"v":3.6},{"t":2.88,"h":1,"v":3.8},{"t":3.28,"h":1,"v":3.8},{"t":3.68,"h":1,"v":3},{"t":4.08,"h":1,"v":4},{"t":4.48,"h":1,"v":4},{"t":4.88,"h":1,"v":4.4},{"t":5.28,"h":1,"v":4.6},{"t":5.68,"h":1,"v":4},{"t":6.08,"h":1,"v":5.8},{"t":6.48,"h":1,"v":5.6},{"t":6.88,"h":1,"v":4.6},{"t":7.28,"h":1,"v":4.2},{"t":7.68,"h":1,"v":4.6},{"t":8.08,"h":1,"v":5.6},{"t":8.48,"h":1,"v":6},{"t":8.88,"h":1,"v":7.8},{"t":9.28,"h":1,"v":7},{"t":9.68,"h":1,"v":7},{"t":10.08,"h":1,"v":7.8},{"t":10.48,"h":1,"v":7.8},{"t":10.88,"h":1,"v":7.6},{"t":11.28,"h":1,"v":8},{"t":11.68,"h":1,"v":8},{"t":12.08,"h":1,"v":8},{"t":12.48,"h":1,"v":8},
{"t":2.08,"h":0.5,"v":3},{"t":2.48,"h":0.5,"v":2.8},{"t":2.88,"h":0.5,"v":2.8},{"t":3.28,"h":0.5,"v":3},{"t":3.68,"h":0.5,"v":2.8},{"t":4.08,"h":0.5,"v":3},{"t":4.48,"h":0.5,"v":3.2},{"t":4.88,"h":0.5,"v":3.4},{"t":5.28,"h":0.5,"v":3.6},{"t":5.68,"h":0.5,"v":3.6},{"t":6.08,"h":0.5,"v":5},{"t":6.48,"h":0.5,"v":4},{"t":6.88,"h":0.5,"v":3.8},{"t":7.28,"h":0.5,"v":3.4},{"t":7.68,"h":0.5,"v":3.8},{"t":8.08,"h":0.5,"v":4},{"t":8.48,"h":0.5,"v":3.8},{"t":8.88,"h":0.5,"v":3.6},{"t":9.28,"h":0.5,"v":4.4},{"t":9.68,"h":0.5,"v":5.5},{"t":10.08,"h":0.5,"v":4.6},{"t":10.48,"h":0.5,"v":4.8},{"t":10.88,"h":0.5,"v":5.4},{"t":11.28,"h":0.5,"v":5.2},{"t":11.68,"h":0.5,"v":4.8},{"t":12.08,"h":0.5,"v":5.2},{"t":12.48,"h":0.5,"v":5.2},
{"t":2.08,"h":0,"v":1.6},{"t":2.48,"h":0,"v":1.2},{"t":2.88,"h":0,"v":1.4},{"t":3.28,"h":0,"v":1.6},{"t":3.68,"h":0,"v":1.6},{"t":4.08,"h":0,"v":2},{"t":4.48,"h":0,"v":2.4},{"t":4.88,"h":0,"v":2.2},{"t":5.28,"h":0,"v":2.6},{"t":5.68,"h":0,"v":2.4},{"t":6.08,"h":0,"v":2.8},{"t":6.48,"h":0,"v":2.8},{"t":6.88,"h":0,"v":3},{"t":7.28,"h":0,"v":2.6},{"t":7.68,"h":0,"v":2.4},{"t":8.08,"h":0,"v":2.2},{"t":8.48,"h":0,"v":2.4},{"t":8.88,"h":0,"v":2.6},{"t":9.28,"h":0,"v":2.8},{"t":9.68,"h":0,"v":3},{"t":10.08,"h":0,"v":3},{"t":10.48,"h":0,"v":3},{"t":10.88,"h":0,"v":3},{"t":11.28,"h":0,"v":2.6},{"t":11.68,"h":0,"v":2.8},{"t":12.08,"h":0,"v":2.8},{"t":12.48,"h":0,"v":3}
]},"mark":{"type":"rect","binSpacing":0,"clip":true},"encoding":{"x":{"field":"t","type":"quantitative","bin":{"binned":true,"step":0.4},"scale":{"domain":[2.085,12.686],"nice":false,"zero":false},"axis":null},"y":{"field":"h","type":"quantitative","bin":{"binned":true,"step":0.5},"scale":{"domain":[0,20],"nice":false,"zero":false},"axis":null},"color":{"field":"v","type":"quantitative","legend":null,"scale":{"domain":[0,4.9,5.05,5.9,6.9,8.4,9.7,10.8,12,12.9,13.4,14.7,16,18],"range":["#ffffff","#ffff33","#e6e620","#a3a300","#ffa500","#ffa055","#ff5000","#ff0000","#a00000","#600040","#47008c","#5000a8","#0000ff","#000060"],"interpolate":"rgb"}},"stroke":{"field":"v","type":"quantitative","legend":null,"scale":{"domain":[0,4.9,5.05,5.9,6.9,8.4,9.7,10.8,12,12.9,13.4,14.7,16,18],"range":["#ffffff","#ffff33","#e6e620","#a3a300","#ffa500","#ffa055","#ff5000","#ff0000","#a00000","#600040","#47008c","#5000a8","#0000ff","#000060"],"interpolate":"rgb"}}}},
{"data":{"values":[{"t":3,"h":5}]},"mark":{"type":"point","opacity":0},"encoding":{"x":{"field":"t","type":"quantitative","scale":{"domain":[2.085,12.686],"nice":false,"zero":false},"axis":{"orient":"bottom","values":[3,4,5,6,7,8,9,10,11,12],"tickSize":41,"tickWidth":4,"labelPadding":14,"title":"Hour (UT)","titlePadding":2,"format":"d"}},"y":{"field":"h","type":"quantitative","scale":{"domain":[0,20],"nice":false,"zero":false},"axis":{"orient":"left","values":[2,4,6,8,10,12,14,16,18,20],"tickSize":41,"tickWidth":4,"labelPadding":13,"title":"Height (km) a.g.l.","titlePadding":19,"format":"d"}}}},
{"data":{"values":[{"t":3,"h":5}]},"mark":{"type":"point","opacity":0},"encoding":{"x":{"field":"t","type":"quantitative","scale":{"domain":[2.085,12.686],"nice":false,"zero":false},"axis":{"orient":"bottom","values":[2.2,2.4,2.6,2.8,3.2,3.4,3.6,3.8,4.2,4.4,4.6,4.8,5.2,5.4,5.6,5.8,6.2,6.4,6.6,6.8,7.2,7.4,7.6,7.8,8.2,8.4,8.6,8.8,9.2,9.4,9.6,9.8,10.2,10.4,10.6,10.8,11.2,11.4,11.6,11.8,12.2,12.4,12.6],"tickSize":20,"tickWidth":2,"labels":false,"title":null}},"y":{"field":"h","type":"quantitative","scale":{"domain":[0,20],"nice":false,"zero":false},"axis":{"orient":"left","values":[0.5,1,1.5,2.5,3,3.5,4.5,5,5.5,6.5,7,7.5,8.5,9,9.5,10.5,11,11.5,12.5,13,13.5,14.5,15,15.5,16.5,17,17.5,18.5,19,19.5],"tickSize":20,"tickWidth":2,"labels":false,"title":null}}}},
{"data":{"values":[{"t":3,"h":5}]},"mark":{"type":"point","opacity":0},"encoding":{"x":{"field":"t","type":"quantitative","scale":{"domain":[2.085,12.686],"nice":false,"zero":false},"axis":{"orient":"top","values":[3,4,5,6,7,8,9,10,11,12],"tickSize":41,"tickWidth":4,"labelPadding":16.5,"title":"Hour (MST)","titlePadding":8,"labelExpr":"(datum.value+17)%24"}},"y":{"field":"h","type":"quantitative","scale":{"domain":[0,20],"nice":false,"zero":false},"axis":null}}},
{"data":{"values":[{"t":3,"h":5}]},"mark":{"type":"point","opacity":0},"encoding":{"x":{"field":"t","type":"quantitative","scale":{"domain":[2.085,12.686],"nice":false,"zero":false},"axis":{"orient":"top","values":[2.2,2.4,2.6,2.8,3.2,3.4,3.6,3.8,4.2,4.4,4.6,4.8,5.2,5.4,5.6,5.8,6.2,6.4,6.6,6.8,7.2,7.4,7.6,7.8,8.2,8.4,8.6,8.8,9.2,9.4,9.6,9.8,10.2,10.4,10.6,10.8,11.2,11.4,11.6,11.8,12.2,12.4,12.6],"tickSize":20,"tickWidth":2,"labels":false,"title":null}},"y":{"field":"h","type":"quantitative","scale":{"domain":[0,20],"nice":false,"zero":false},"axis":null}}},
{"data":{"values":[{"t":3.58},{"t":11.2}]},"mark":{"type":"rule","color":"#ff0000","strokeWidth":3.5,"strokeDash":[3.5,7.5]},"encoding":{"x":{"field":"t","type":"quantitative","scale":{"domain":[2.085,12.686],"nice":false,"zero":false},"axis":null}}},
{"data":{"values":[{"t":3.58,"h":10.27,"label":"dusk"},{"t":11.2,"h":10.27,"label":"dawn"}]},"mark":{"type":"text","color":"#ff0000","fontSize":41.5,"baseline":"middle","align":"center"},"encoding":{"x":{"field":"t","type":"quantitative","scale":{"domain":[2.085,12.686],"nice":false,"zero":false},"axis":null},"y":{"field":"h","type":"quantitative","scale":{"domain":[0,20],"nice":false,"zero":false},"axis":null},"text":{"field":"label"}}},
{"data":{"values":[{"t":2.085,"h":20,"label":"2026/08/17"}]},"mark":{"type":"text","color":"black","fontSize":41.5,"baseline":"middle","align":"left","dy":-121,"clip":false},"encoding":{"x":{"field":"t","type":"quantitative","scale":{"domain":[2.085,12.686],"nice":false,"zero":false},"axis":null},"y":{"field":"h","type":"quantitative","scale":{"domain":[0,20],"nice":false,"zero":false},"axis":null},"text":{"field":"label"}}},
{"data":{"values":[{"a":2.085,"b":12.686,"c":0,"d":20}]},"mark":{"type":"rect","fill":"transparent","stroke":"black","strokeWidth":4,"clip":false},"encoding":{"x":{"field":"a","type":"quantitative","scale":{"domain":[2.085,12.686],"nice":false,"zero":false},"axis":null},"x2":{"field":"b"},"y":{"field":"c","type":"quantitative","scale":{"domain":[0,20],"nice":false,"zero":false},"axis":null},"y2":{"field":"d"}}}
]},
{"width":1351,"height":67,"layer":[{"data":{"values":[{"v":0},{"v":0.2},{"v":0.4},{"v":0.6},{"v":0.8},{"v":1},{"v":1.2},{"v":1.4},{"v":1.6},{"v":1.8},{"v":2},{"v":2.2},{"v":2.4},{"v":2.6},{"v":2.8},{"v":3},{"v":3.2},{"v":3.4},{"v":3.6},{"v":3.8},{"v":4},{"v":4.2},{"v":4.4},{"v":4.6},{"v":4.8},{"v":5},{"v":5.2},{"v":5.4},{"v":5.6},{"v":5.8},{"v":6},{"v":6.2},{"v":6.4},{"v":6.6},{"v":6.8},{"v":7},{"v":7.2},{"v":7.4},{"v":7.6},{"v":7.8},{"v":8},{"v":8.2},{"v":8.4},{"v":8.6},{"v":8.8},{"v":9},{"v":9.2},{"v":9.4},{"v":9.6},{"v":9.8},{"v":10},{"v":10.2},{"v":10.4},{"v":10.6},{"v":10.8},{"v":11},{"v":11.2},{"v":11.4},{"v":11.6},{"v":11.8},{"v":12},{"v":12.2},{"v":12.4},{"v":12.6},{"v":12.8},{"v":13},{"v":13.2},{"v":13.4},{"v":13.6},{"v":13.8},{"v":14},{"v":14.2},{"v":14.4},{"v":14.6},{"v":14.8},{"v":15},{"v":15.2},{"v":15.4},{"v":15.6},{"v":15.8},{"v":16},{"v":16.2},{"v":16.4},{"v":16.6},{"v":16.8},{"v":17},{"v":17.2},{"v":17.4},{"v":17.6},{"v":17.8},{"v":18}]},"mark":{"type":"rect","binSpacing":0,"clip":true},"encoding":{"x":{"field":"v","type":"quantitative","bin":{"binned":true,"step":0.2},"scale":{"domain":[0,18.15],"nice":false,"zero":false},"axis":{"values":[0,1.8,3.6,5.4,7.2,9,10.8,12.6,14.4,16.2,18],"format":".1f","tickSize":15,"tickWidth":2.5,"labelPadding":13,"title":"Wind speed (m/s)","titlePadding":17}},"color":{"field":"v","type":"quantitative","legend":null,"scale":{"domain":[0,4.9,5.05,5.9,6.9,8.4,9.7,10.8,12,12.9,13.4,14.7,16,18],"range":["#ffffff","#ffff33","#e6e620","#a3a300","#ffa500","#ffa055","#ff5000","#ff0000","#a00000","#600040","#47008c","#5000a8","#0000ff","#000060"],"interpolate":"rgb"}},"stroke":{"field":"v","type":"quantitative","legend":null,"scale":{"domain":[0,4.9,5.05,5.9,6.9,8.4,9.7,10.8,12,12.9,13.4,14.7,16,18],"range":["#ffffff","#ffff33","#e6e620","#a3a300","#ffa500","#ffa055","#ff5000","#ff0000","#a00000","#600040","#47008c","#5000a8","#0000ff","#000060"],"interpolate":"rgb"}}}},
{"data":{"values":[{"a":0,"b":18.15}]},"mark":{"type":"rect","fill":"transparent","stroke":"black","strokeWidth":4,"clip":false},"encoding":{"x":{"field":"a","type":"quantitative","scale":{"domain":[0,18.15],"nice":false,"zero":false}},"x2":{"field":"b"}}}
]}]}
